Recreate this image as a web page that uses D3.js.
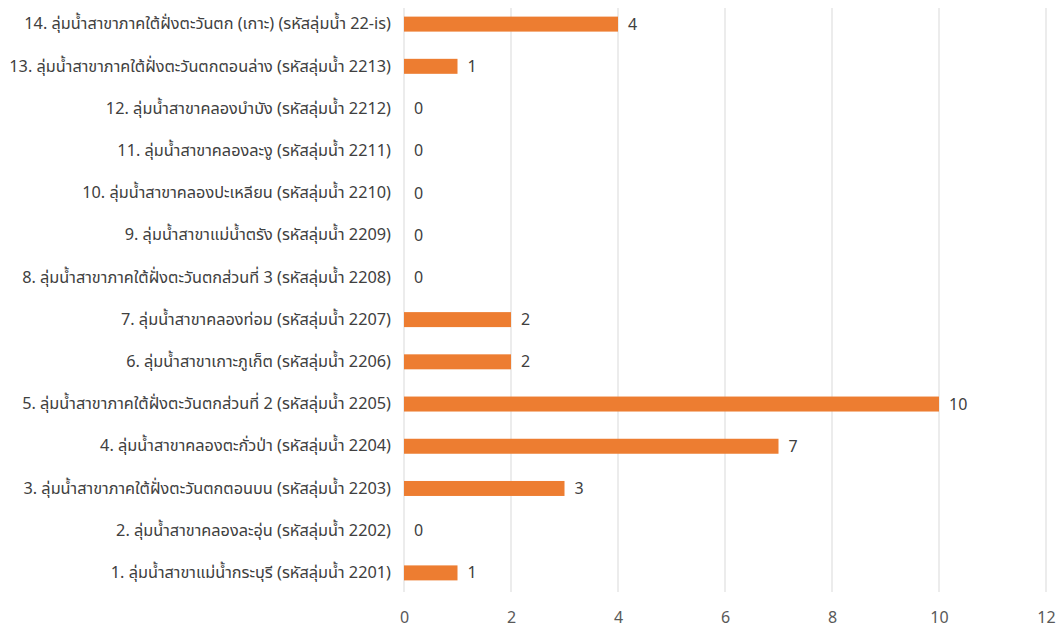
<!DOCTYPE html>
<html><head><meta charset="utf-8">
<script src="https://cdn.jsdelivr.net/npm/d3@7"></script>
<style>
body{margin:0;background:#fff;}
text{font-family:"Noto Sans","Noto Sans Thai",Tahoma,"DejaVu Sans",sans-serif;}
</style></head><body>
<svg id="c" width="1058" height="628"></svg>
<script>
const categories = [
"1. ลุ่มน้ำสาขาแม่น้ำกระบุรี (รหัสลุ่มน้ำ 2201)",
"2. ลุ่มน้ำสาขาคลองละอุ่น (รหัสลุ่มน้ำ 2202)",
"3. ลุ่มน้ำสาขาภาคใต้ฝั่งตะวันตกตอนบน (รหัสลุ่มน้ำ 2203)",
"4. ลุ่มน้ำสาขาคลองตะกั่วป่า (รหัสลุ่มน้ำ 2204)",
"5. ลุ่มน้ำสาขาภาคใต้ฝั่งตะวันตกส่วนที่ 2 (รหัสลุ่มน้ำ 2205)",
"6. ลุ่มน้ำสาขาเกาะภูเก็ต (รหัสลุ่มน้ำ 2206)",
"7. ลุ่มน้ำสาขาคลองท่อม (รหัสลุ่มน้ำ 2207)",
"8. ลุ่มน้ำสาขาภาคใต้ฝั่งตะวันตกส่วนที่ 3 (รหัสลุ่มน้ำ 2208)",
"9. ลุ่มน้ำสาขาแม่น้ำตรัง (รหัสลุ่มน้ำ 2209)",
"10. ลุ่มน้ำสาขาคลองปะเหลียน (รหัสลุ่มน้ำ 2210)",
"11. ลุ่มน้ำสาขาคลองละงู (รหัสลุ่มน้ำ 2211)",
"12. ลุ่มน้ำสาขาคลองบำบัง (รหัสลุ่มน้ำ 2212)",
"13. ลุ่มน้ำสาขาภาคใต้ฝั่งตะวันตกตอนล่าง (รหัสลุ่มน้ำ 2213)",
"14. ลุ่มน้ำสาขาภาคใต้ฝั่งตะวันตก (เกาะ) (รหัสลุ่มน้ำ 22-is)"
];
const values = [1,0,3,7,10,2,2,0,0,0,0,0,1,4];
const xTicks = [0,2,4,6,8,10,12];

const svg = d3.select("#c");
const mLeft = 404, mRight = 1046, mTop = 3, mBottom = 594;
const x = d3.scaleLinear().domain([0,12]).range([mLeft,mRight]);
const y = d3.scaleBand().domain(categories.slice().reverse()).range([mTop,mBottom]).paddingInner(0.645).paddingOuter(0.3225);

// gridlines
svg.append("g").selectAll("line").data(xTicks).join("line")
  .attr("x1",d=>x(d)).attr("x2",d=>x(d)).attr("y1",8).attr("y2",592)
  .attr("stroke","#d9d9d9").attr("stroke-width",1);

// x axis labels
const xa = svg.append("g").attr("transform",`translate(0,${mBottom})`)
  .call(d3.axisBottom(x).tickValues(xTicks).tickSize(0).tickPadding(18));
xa.select(".domain").remove();
xa.selectAll("text").attr("fill","#595959").style("font-size","16px");

// y axis labels
const ya = svg.append("g").attr("transform",`translate(${mLeft},0)`)
  .call(d3.axisLeft(y).tickSize(0).tickPadding(13));
ya.select(".domain").remove();
ya.selectAll("text").attr("fill","#404040").style("font-size","16.3px");

// bars
const data = categories.map((c,i)=>({c,v:values[i]}));
svg.append("g").selectAll("rect").data(data).join("rect")
  .attr("x",x(0)).attr("y",d=>y(d.c)).attr("width",d=>x(d.v)-x(0)).attr("height",y.bandwidth())
  .attr("fill","#ed7d31");

// value labels
svg.append("g").selectAll("text").data(data).join("text")
  .attr("x",d=>x(d.v)+10).attr("y",d=>y(d.c)+y.bandwidth()/2).attr("dy","0.35em")
  .attr("fill","#404040").style("font-size","16px").text(d=>d.v);
</script></body></html>
